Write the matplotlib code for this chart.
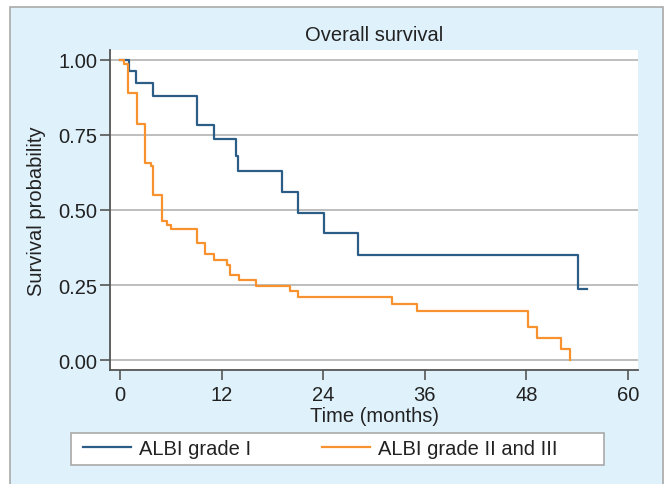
import matplotlib.pyplot as plt
from matplotlib.patches import Rectangle
from matplotlib.lines import Line2D

plt.rcParams['font.family'] = ['Liberation Sans', 'DejaVu Sans']

# Kaplan-Meier step data (months, survival probability)
grade1_time = [0, 1.06, 1.9, 3.9, 9.05, 11.1, 13.7, 13.9, 19.1, 21.05, 24.1, 28.06, 54.1, 55.2]
grade1_surv = [1.0, 0.963, 0.923, 0.881, 0.783, 0.737, 0.681, 0.629, 0.559, 0.49, 0.422, 0.351, 0.237, 0.237]

grade23_time = [0, 0.47, 0.9, 1.97, 2.9, 3.66, 3.94, 5.0, 5.5, 5.98, 9.05, 10.07, 11.06, 12.6,
                12.95, 14.0, 16.06, 20.07, 21.05, 32.07, 35.1, 48.17, 49.2, 52.1, 53.1]
grade23_surv = [1.0, 0.985, 0.889, 0.787, 0.657, 0.646, 0.55, 0.462, 0.45, 0.436, 0.389, 0.353,
                0.334, 0.317, 0.283, 0.266, 0.248, 0.23, 0.211, 0.188, 0.164, 0.111, 0.074, 0.038, 0.0]

series_labels = ["ALBI grade I", "ALBI grade II and III"]
x_ticks = [0, 12, 24, 36, 48, 60]
y_ticks = [0.0, 0.25, 0.5, 0.75, 1.0]

BLUE = "#2b5d87"
ORANGE = "#f7922e"
BG = "#dff1fa"
DARK = "#555555"
FS = 14.5

W, H = 665, 485
fig = plt.figure(figsize=(W / 100, H / 100), dpi=100, facecolor="white")

# outer light-blue panel with gray border
fig.patches.append(Rectangle((10 / W, -0.01), (663 - 10) / W, 1 - 8 / H + 0.01,
                             transform=fig.transFigure, facecolor=BG,
                             edgecolor="#a9a9a9", linewidth=1.2, zorder=-10))

ax = fig.add_axes([110 / W, 1 - 371 / H, (638 - 110) / W, (371 - 51) / H])
ax.set_facecolor("white")

ax.step(grade1_time, grade1_surv, where="post", color=BLUE, linewidth=1.6, zorder=3)
ax.step(grade23_time, grade23_surv, where="post", color=ORANGE, linewidth=1.6, zorder=3)

ax.set_xlim(-1.18, 61.18)
ax.set_ylim(-0.0333, 1.0333)
ax.set_xticks(x_ticks)
ax.set_yticks(y_ticks)
ax.set_yticklabels([f"{v:.2f}" for v in y_ticks])
ax.grid(axis="y", color="#b9b9b9", linewidth=1.3)
ax.set_axisbelow(True)

for s in ["top", "right"]:
    ax.spines[s].set_visible(False)
for s in ["left", "bottom"]:
    ax.spines[s].set_color(DARK)
    ax.spines[s].set_linewidth(1.3)

ax.tick_params(axis="both", colors=DARK, labelcolor="#222222", labelsize=FS,
               length=7, width=1.2)
ax.tick_params(axis="y", pad=2)
ax.tick_params(axis="x", pad=4)

ax.set_title("Overall survival", fontsize=FS, color="#222222", pad=7)
ax.set_xlabel("Time (months)", fontsize=FS, color="#222222", labelpad=1)
ax.set_ylabel("Survival probability", fontsize=FS, color="#222222", labelpad=9)

# legend box
fig.patches.append(Rectangle((71 / W, 1 - 466 / H), (604 - 71) / W, (466 - 434) / H,
                             transform=fig.transFigure, facecolor="white",
                             edgecolor="#a9a9a9", linewidth=1.2, zorder=-5))
handles = [Line2D([], [], color=BLUE, linewidth=1.6),
           Line2D([], [], color=ORANGE, linewidth=1.6)]
fig.legend(handles, series_labels, loc="center left",
           bbox_to_anchor=(69 / W, 1 - 450 / H), ncol=2, frameon=False,
           fontsize=FS, handlelength=2.4, handletextpad=0.4, columnspacing=3.5,
           borderpad=0.2, labelcolor="#222222")

fig.savefig("out.png", dpi=100, facecolor="white")
